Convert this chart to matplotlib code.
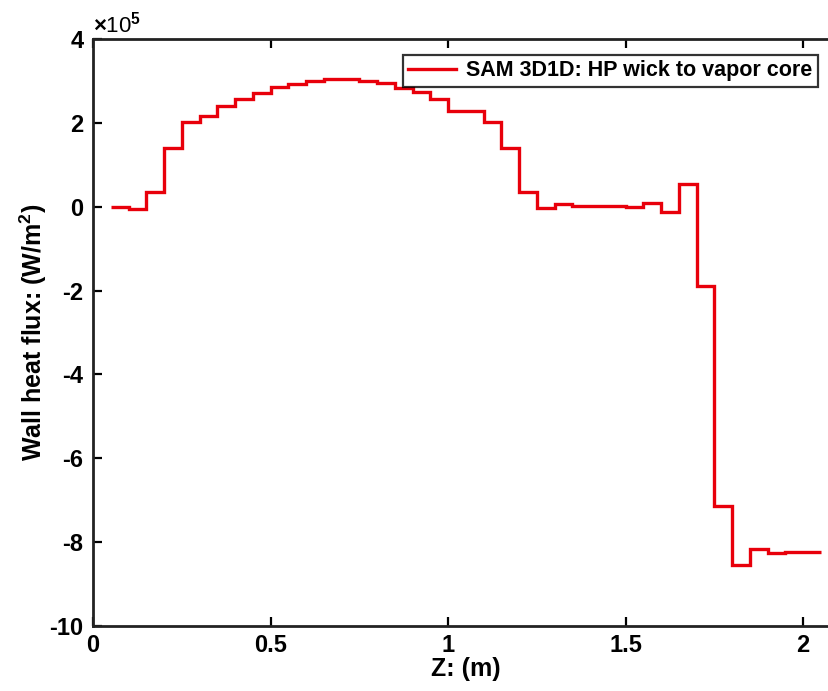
import numpy as np
import matplotlib
matplotlib.use('Agg')
import matplotlib.pyplot as plt

plt.rcParams['font.family'] = ['Liberation Sans', 'DejaVu Sans']
plt.rcParams['font.weight'] = 'bold'
plt.rcParams['axes.unicode_minus'] = False
plt.rcParams['mathtext.fontset'] = 'custom'
plt.rcParams['mathtext.rm'] = 'Liberation Sans:bold'
plt.rcParams['mathtext.bf'] = 'Liberation Sans:bold'

# cell edges (m) and wall heat flux per cell (x 1e5 W/m^2)
z_edges = np.round(np.arange(0.05, 2.051, 0.05), 2)
q_wall = [0.0, -0.05, 0.34, 1.41, 2.02, 2.17, 2.39, 2.56, 2.71, 2.85,
          2.93, 3.00, 3.04, 3.05, 3.00, 2.94, 2.84, 2.73, 2.57, 2.28,
          2.28, 2.01, 1.39, 0.35, -0.04, 0.06, 0.02, 0.02, 0.02, -0.01,
          0.08, -0.12, 0.54, -1.88, -7.14, -8.55, -8.17, -8.27, -8.24, -8.24]

fig = plt.figure(figsize=(8.29, 6.91), dpi=100)
ax = fig.add_axes([0.1122, 0.0941, 0.8993, 0.8495])

ax.stairs(q_wall, z_edges, color='#e8000b', lw=2.4, baseline=None,
          label='SAM 3D1D: HP wick to vapor core')

ax.set_xlim(0, 2.1)
ax.set_ylim(-10, 4)
ax.set_xticks([0, 0.5, 1, 1.5, 2])
ax.set_xticklabels(['0', '0.5', '1', '1.5', '2'])
ax.set_yticks(np.arange(-10, 5, 2))
ax.tick_params(direction='in', length=6.5, width=1.6, labelsize=17,
               top=True, right=True)
ax.tick_params(axis='y', pad=7)
ax.tick_params(axis='x', pad=6)
for s in ax.spines.values():
    s.set_linewidth(2.0)
    s.set_color('#222222')

ax.set_xlabel('Z: (m)', fontsize=18, fontweight='bold', labelpad=0)
ax.set_ylabel('Wall heat flux: (W/m$^2$)', fontsize=18, fontweight='bold', labelpad=0)
ax.text(0.0, 1.003, r'$\times$10$^5$', transform=ax.transAxes, fontsize=16,
        fontweight='normal', ha='left', va='bottom')

leg = ax.legend(loc='upper right', bbox_to_anchor=(818 / 829, 1 - 55 / 691),
                bbox_transform=fig.transFigure, fontsize=15.5, frameon=True,
                fancybox=False, borderaxespad=0, handlelength=2.2,
                borderpad=0.25, handletextpad=0.5)
leg.get_frame().set_edgecolor('black')
leg.get_frame().set_linewidth(1.6)
for t in leg.get_texts():
    t.set_fontweight('bold')

fig.savefig('out.png', dpi=100)
